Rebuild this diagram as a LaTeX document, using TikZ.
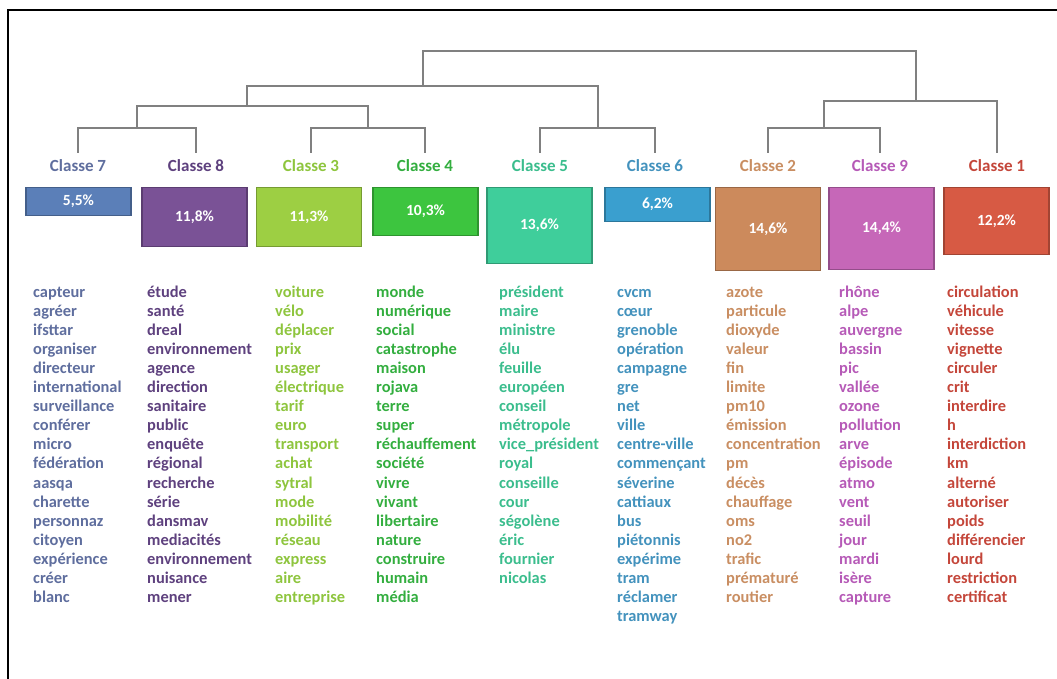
\documentclass[tikz,border=0pt]{standalone}
\usepackage{fontspec}
\setmainfont{Carlito}
\usetikzlibrary{positioning}

% text colours (labels and words)
\definecolor{t7}{HTML}{5F6E9E}
\definecolor{t8}{HTML}{5E417E}
\definecolor{t3}{HTML}{8EC53E}
\definecolor{t4}{HTML}{33AE3F}
\definecolor{t5}{HTML}{3BBD8D}
\definecolor{t6}{HTML}{4392BD}
\definecolor{t2}{HTML}{C98E62}
\definecolor{t9}{HTML}{B65AB7}
\definecolor{t1}{HTML}{C4463A}
% box colours
\definecolor{b7}{HTML}{5B7FB8}
\definecolor{b8}{HTML}{7A5296}
\definecolor{b3}{HTML}{9DCF43}
\definecolor{b4}{HTML}{3DC53F}
\definecolor{b5}{HTML}{3FCE9B}
\definecolor{b6}{HTML}{3A9FCF}
\definecolor{b2}{HTML}{CC8A5C}
\definecolor{b9}{HTML}{C667B8}
\definecolor{b1}{HTML}{D75A44}

\tikzset{
  dendro/.style={draw=black!50, line width=1.4pt},
  classlab/.style={font=\bfseries\fontsize{17}{20}\selectfont,
    inner xsep=2pt, inner ysep=7pt},
  pbox/.style={anchor=north, minimum width=105pt, inner sep=0pt,
    text=white, line width=1.2pt,
    font=\bfseries\fontsize{15.5}{18}\selectfont},
  word/.style={anchor=base west, inner sep=0pt,
    font=\bfseries\fontsize{16.4}{19}\selectfont}
}

\begin{document}
\begin{tikzpicture}[x=1pt,y=-1pt]
  \useasboundingbox (0,0) rectangle (1057,679);

  % frame
  \draw[line width=1.5pt] (8,679) -- (8,10) -- (1057,10);

  % class labels and percentage boxes
  \foreach \n/\x/\bx/\h/\p in {7/78/78.5/28/{5,5\%}, 8/196/194.5/59/{11,8\%},
      3/311/309/59/{11,3\%}, 4/425/425.5/48/{10,3\%}, 5/540/539.5/76/{13,6\%},
      6/655/657.5/34/{6,2\%}, 2/768/768/83/{14,6\%}, 9/880/881.5/82/{14,4\%},
      1/997/996.5/67/{12,2\%}} {
    \node[classlab, text=t\n] (lab\n) at (\x,166) {Classe \n};
    \node[pbox, fill=b\n, draw=b\n!75!black, minimum height=\h pt]
      (box\n) at (\bx,187) {\p};
  }

  % dendrogram
  \coordinate (j78) at (137,128);
  \coordinate (j34) at (368,128);
  \coordinate (j56) at (598,128);
  \coordinate (j29) at (824,128);
  \coordinate (j7834) at (247,106);
  \coordinate (jleft) at (423,86);
  \coordinate (jright) at (916,101);
  \coordinate (jtop) at (670,51);

  \draw[dendro] (lab7.north) |- (j78) -| (lab8.north);
  \draw[dendro] (lab3.north) |- (j34) -| (lab4.north);
  \draw[dendro] (lab5.north) |- (j56) -| (lab6.north);
  \draw[dendro] (lab2.north) |- (j29) -| (lab9.north);
  \draw[dendro] (j78) |- (j7834) -| (j34);
  \draw[dendro] (j7834) |- (jleft) -| (j56);
  \draw[dendro] (j29) |- (jright) -| (lab1.north);
  \draw[dendro] (jleft) |- (jtop) -| (jright);

  % word lists
  \foreach \n/\x/\wl in {
      7/33/{capteur,agréer,ifsttar,organiser,directeur,international,surveillance,conférer,micro,fédération,aasqa,charette,personnaz,citoyen,expérience,créer,blanc},
      8/147/{étude,santé,dreal,environnement,agence,direction,sanitaire,public,enquête,régional,recherche,série,dansmav,mediacités,environnement,nuisance,mener},
      3/275/{voiture,vélo,déplacer,prix,usager,électrique,tarif,euro,transport,achat,sytral,mode,mobilité,réseau,express,aire,entreprise},
      4/376/{monde,numérique,social,catastrophe,maison,rojava,terre,super,réchauffement,société,vivre,vivant,libertaire,nature,construire,humain,média},
      5/499/{président,maire,ministre,élu,feuille,européen,conseil,métropole,vice\_président,royal,conseille,cour,ségolène,éric,fournier,nicolas},
      6/617/{cvcm,cœur,grenoble,opération,campagne,gre,net,ville,centre-ville,commençant,séverine,cattiaux,bus,piétonnis,expérime,tram,réclamer,tramway},
      2/726/{azote,particule,dioxyde,valeur,fin,limite,pm10,émission,concentration,pm,décès,chauffage,oms,no2,trafic,prématuré,routier},
      9/839/{rhône,alpe,auvergne,bassin,pic,vallée,ozone,pollution,arve,épisode,atmo,vent,seuil,jour,mardi,isère,capture},
      1/947/{circulation,véhicule,vitesse,vignette,circuler,crit,interdire,h,interdiction,km,alterné,autoriser,poids,différencier,lourd,restriction,certificat}} {
    \foreach \w [count=\i] in \wl {
      \node[word, text=t\n] (w\n-\i) at (\x,297+19.1*\i-19.1) {\w};
    }
  }
\end{tikzpicture}
\end{document}
